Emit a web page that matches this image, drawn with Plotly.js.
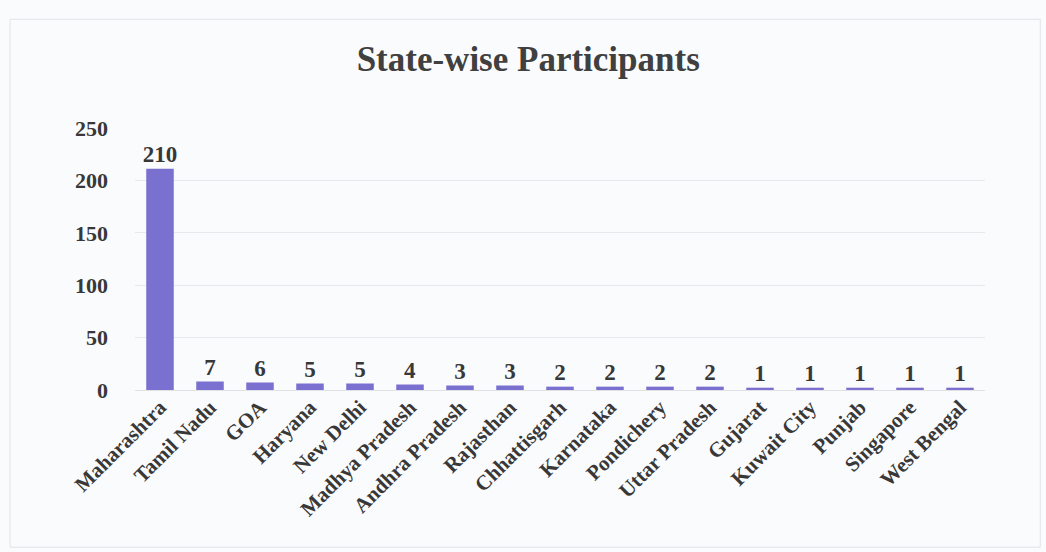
<!DOCTYPE html>
<html>
<head>
<meta charset="utf-8">
<script src="https://cdn.plot.ly/plotly-3.0.1.min.js"></script>
<style>html,body{margin:0;padding:0;background:#fafbfd;}#chart{width:1046px;height:552px;}</style>
</head>
<body>
<div id="chart"></div>
<script>
const states = ["Maharashtra","Tamil Nadu","GOA","Haryana","New Delhi","Madhya Pradesh","Andhra Pradesh","Rajasthan","Chhattisgarh","Karnataka","Pondichery","Uttar Pradesh","Gujarat","Kuwait City","Punjab","Singapore","West Bengal"];
const participants = [210,7,6,5,5,4,3,3,2,2,2,2,1,1,1,1,1];
const yTicks = [0,50,100,150,200,250];

const font = "Liberation Serif, Times New Roman, serif";
const trace = {
  type: "bar",
  x: states,
  y: participants,
  width: 0.5,
  marker: {color: "#7a70d0", line: {color: "#7a70d0", width: 2.5}},
  text: participants.map(String),
  textposition: "outside",
  constraintext: "none",
  textfont: {family: font, size: 23, color: "#383838", weight: "bold"},
  cliponaxis: false,
  hoverinfo: "x+y"
};
const layout = {
  width: 1046, height: 552,
  paper_bgcolor: "#fafbfd", plot_bgcolor: "#fafbfd",
  margin: {l: 135, r: 61, t: 128, b: 162},
  title: {text: "<b>State-wise Participants</b>", x: 0.505, xanchor: "center", y: 0.893, yanchor: "middle",
          font: {family: font, size: 35, color: "#404040"}},
  xaxis: {tickangle: -45, tickfont: {family: font, size: 21, color: "#383838", weight: "bold"},
          showline: false, ticks: "", showgrid: false, zeroline: false},
  yaxis: {range: [0, 250], tickvals: yTicks, ticktext: yTicks.map(String),
          tickfont: {family: font, size: 22, color: "#383838", weight: "bold"},
          gridcolor: "#e8e9ec", gridwidth: 1, zeroline: true, zerolinecolor: "#e0e1e4",
          showline: false, ticks: "", ticklabelstandoff: 26},
  showlegend: false,
  bargap: 0.5,
  shapes: [{type: "rect", xref: "paper", yref: "paper", x0: -0.147, x1: 1.065, y0: -0.6, y1: 1.415,
            line: {color: "#e2e3e6", width: 1}, fillcolor: "rgba(0,0,0,0)"}]
};
Plotly.newPlot("chart", [trace], layout, {displayModeBar: false, staticPlot: true});
</script>
</body>
</html>
